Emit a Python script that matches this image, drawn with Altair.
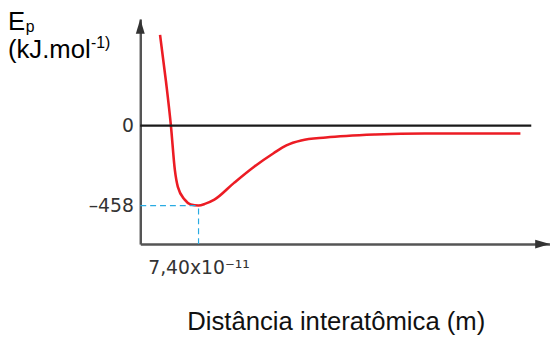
import altair as alt
import pandas as pd

# ---- data ----
dist_pm = [25.1, 32.6, 38.9, 43.9, 47.7, 56.4, 64.0, 74.0, 82.8, 94.1, 119.1,
           144.2, 169.3, 185.6, 204.4, 235.8, 298.5, 361.2, 423.9, 482.9]
energy = [520, 254, 0, -254, -351, -424, -452, -458, -447, -424, -328,
          -237, -158, -113, -85, -68, -51, -45, -45, -45]
y_ticks = [-458, 0]
y_tick_labels = ["–458", "0"]
x_ticks = [74.0]
x_tick_labels = ["7,40x10⁻¹¹"]
x_title = "Distância interatômica (m)"

X_MIN, X_MAX = 0, 520.5
Y_MIN, Y_MAX = -678.5, 610.7
ZERO_END = 496.7
MIN_X, MIN_Y = 74.0, -458

W, H = 415, 228

xs = alt.Scale(domain=[X_MIN, X_MAX], nice=False, zero=False)
ys = alt.Scale(domain=[Y_MIN, Y_MAX], nice=False, zero=False)

curve_df = pd.DataFrame({"d": dist_pm, "e": energy})

y_expr = " : ".join(
    f"datum.value == {v} ? '{l}'" for v, l in zip(y_ticks, y_tick_labels)
) + " : ''"
x_expr = " : ".join(
    f"datum.value == {v} ? '{l}'" for v, l in zip(x_ticks, x_tick_labels)
) + " : ''"

AX_COL = "#555555"

x_axis = alt.Axis(
    values=x_ticks, labelExpr=x_expr, ticks=False, grid=False,
    domainColor=AX_COL, domainWidth=2.5,
    labelFont="DejaVu Sans", labelFontSize=19, labelColor="#333333",
    labelPadding=15,
    title=x_title, titleFont="Liberation Sans", titleFontSize=26,
    titleFontWeight="normal", titleColor="#111111",
    titleX=198, titleY=87, titleBaseline="alphabetic", titleAlign="center",
)
y_axis = alt.Axis(
    values=y_ticks, labelExpr=y_expr, ticks=False, grid=False,
    domainColor=AX_COL, domainWidth=2.5,
    labelFont="DejaVu Sans", labelFontSize=19, labelColor="#333333",
    labelPadding=7, title=None,
)

curve = alt.Chart(curve_df).mark_line(
    color="#ec1c24", strokeWidth=2.6, interpolate="monotone"
).encode(
    x=alt.X("d:Q", scale=xs, axis=x_axis),
    y=alt.Y("e:Q", scale=ys, axis=y_axis),
)

zero_line = alt.Chart(pd.DataFrame({"d": [X_MIN], "d2": [ZERO_END], "e": [0]})).mark_rule(
    color="#1a1a1a", strokeWidth=2.5
).encode(
    x=alt.X("d:Q", scale=xs, axis=x_axis), x2="d2:Q",
    y=alt.Y("e:Q", scale=ys, axis=y_axis),
)

h_dash = alt.Chart(pd.DataFrame({"d": [X_MIN], "d2": [MIN_X], "e": [MIN_Y]})).mark_rule(
    color="#29abe2", strokeWidth=1.2, strokeDash=[6, 4]
).encode(
    x=alt.X("d:Q", scale=xs, axis=x_axis), x2="d2:Q",
    y=alt.Y("e:Q", scale=ys, axis=y_axis),
)

v_dash = alt.Chart(pd.DataFrame({"d": [MIN_X], "e": [Y_MIN], "e2": [MIN_Y]})).mark_rule(
    color="#29abe2", strokeWidth=1.2, strokeDash=[6, 4]
).encode(
    x=alt.X("d:Q", scale=xs, axis=x_axis),
    y=alt.Y("e:Q", scale=ys, axis=y_axis), y2="e2:Q",
)

arrow_up = alt.Chart(pd.DataFrame({"d": [X_MIN], "e": [Y_MAX]})).mark_point(
    shape="M0,0L0.6,2L-0.6,2Z", size=225, filled=True, color="#333333", opacity=1
).encode(
    x=alt.X("d:Q", scale=xs, axis=x_axis),
    y=alt.Y("e:Q", scale=ys, axis=y_axis),
)

arrow_right = alt.Chart(pd.DataFrame({"d": [X_MAX], "e": [Y_MIN]})).mark_point(
    shape="M0,0L-2,-0.6L-2,0.6Z", size=225, filled=True, color="#333333", opacity=1
).encode(
    x=alt.X("d:Q", scale=xs, axis=x_axis),
    y=alt.Y("e:Q", scale=ys, axis=y_axis),
)


def label(txt, px, py, size, align="left"):
    return alt.Chart(pd.DataFrame({"t": [txt]})).mark_text(
        font="Liberation Sans", fontSize=size, color="#000000",
        align=align, baseline="alphabetic",
    ).encode(text="t:N", x=alt.value(px), y=alt.value(py))


ep_E = label("E", -134, 11, 26)
ep_p = label("p", -116, 13, 16)
unit = label("(kJ.mol", -134, 40, 26)
unit_sup = label("-1)", -50, 29, 16)

chart = alt.layer(
    curve, zero_line, h_dash, v_dash, arrow_up, arrow_right,
    ep_E, ep_p, unit, unit_sup,
).properties(
    width=W, height=H,
    autosize=alt.AutoSizeParams(type="none"),
    padding={"left": 134, "top": 9, "right": 0, "bottom": 93},
    background="white",
).configure_view(stroke=None)

chart.save("out.html", embed_options={"renderer": "svg", "actions": False})
